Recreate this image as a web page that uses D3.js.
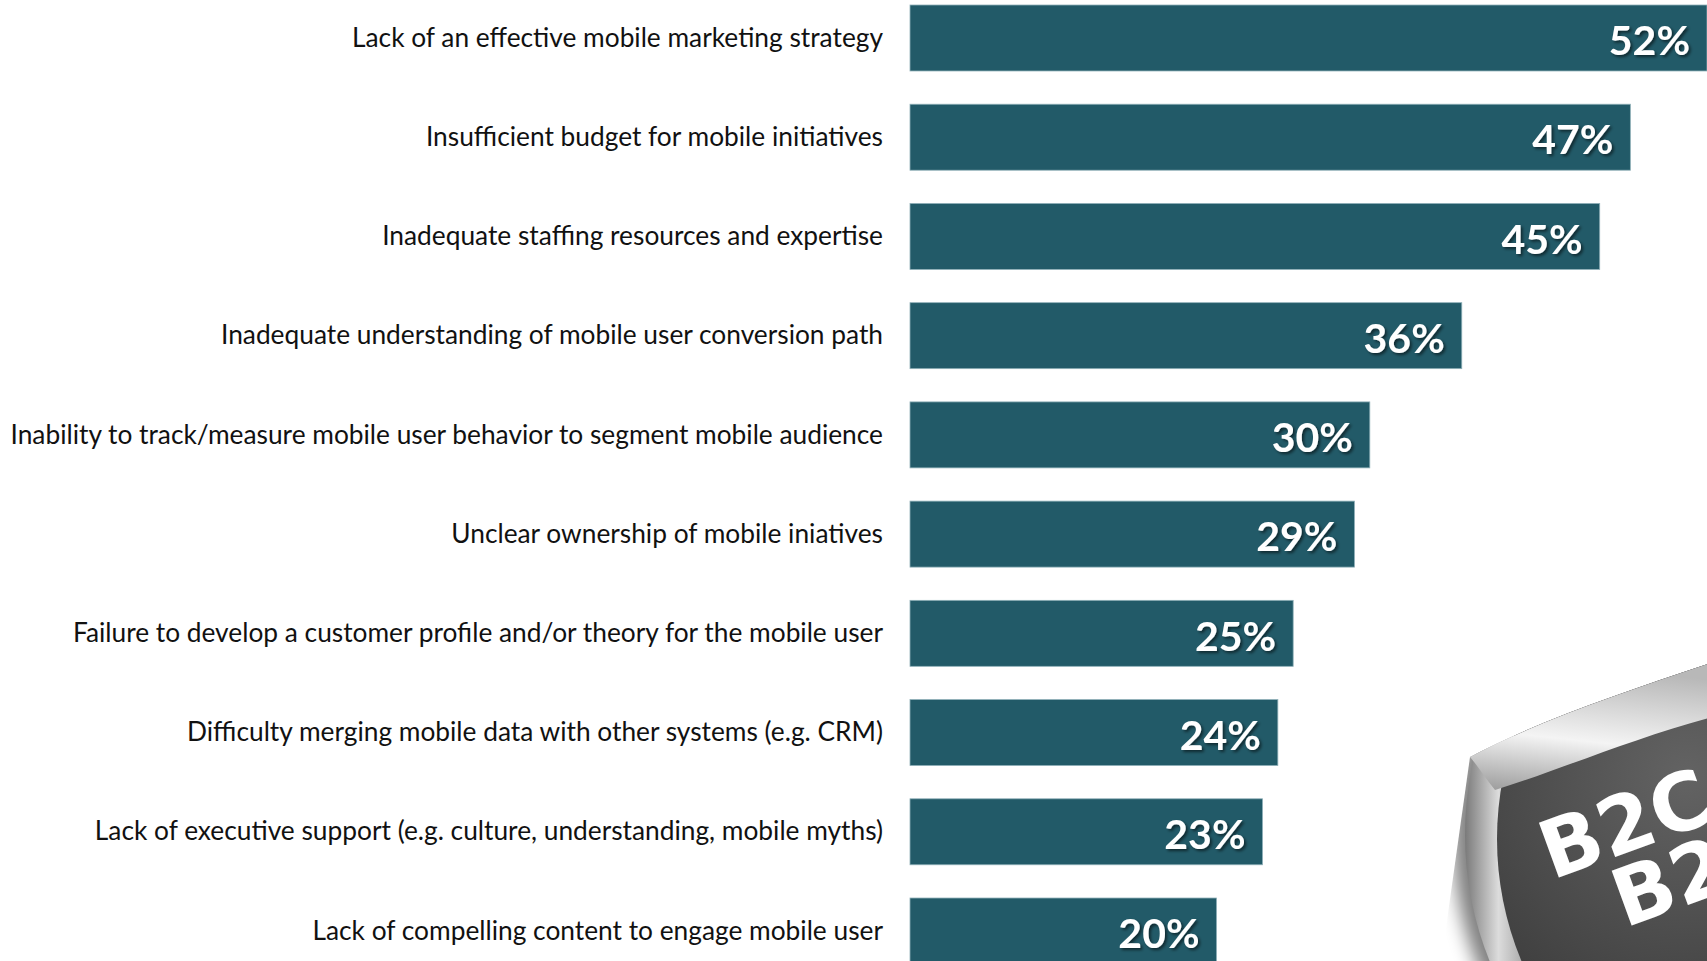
<!DOCTYPE html>
<html>
<head>
<meta charset="utf-8">
<script src="https://cdn.jsdelivr.net/npm/d3@7"></script>
<style>
  html, body { margin: 0; padding: 0; background: #fff; overflow: hidden; }
  svg { display: block; }
</style>
</head>
<body>
<div id="chart"></div>
<script>
// categories and values, top to bottom
var categories = [
  "Lack of an effective mobile marketing strategy",
  "Insufficient budget for mobile initiatives",
  "Inadequate staffing resources and expertise",
  "Inadequate understanding of mobile user conversion path",
  "Inability to track/measure mobile user behavior to segment mobile audience",
  "Unclear ownership of mobile iniatives",
  "Failure to develop a customer profile and/or theory for the mobile user",
  "Difficulty merging mobile data with other systems (e.g. CRM)",
  "Lack of executive support (e.g. culture, understanding, mobile myths)",
  "Lack of compelling content to engage mobile user"
];
var values = [52, 47, 45, 36, 30, 29, 25, 24, 23, 20];
var stickerLines = ["B2C", "B2B"];

var width = 1707, height = 961;
var barLeft = 910;

var svg = d3.select("#chart")
  .append("svg")
  .attr("width", width)
  .attr("height", height);

var defs = svg.append("defs");

// soft shadow behind the value labels
var shadow = defs.append("filter").attr("id", "txtShadow")
  .attr("x", "-20%").attr("y", "-20%").attr("width", "140%").attr("height", "140%");
shadow.append("feDropShadow")
  .attr("dx", 2).attr("dy", 2).attr("stdDeviation", 1.5)
  .attr("flood-color", "#000").attr("flood-opacity", 0.55);

// scales
var x = d3.scaleLinear()
  .domain([0, 52])
  .range([barLeft, width]);

var y = d3.scaleBand()
  .domain(categories)
  .range([5, 964])
  .paddingInner(0.335)
  .paddingOuter(0)
  .align(0);

// bars
svg.append("g")
  .selectAll("rect")
  .data(values)
  .enter()
  .append("rect")
  .attr("x", x(0))
  .attr("y", function (d, i) { return y(categories[i]); })
  .attr("width", function (d) { return x(d) - x(0); })
  .attr("height", y.bandwidth())
  .style("fill", "#225a68")
  .style("stroke", "#8fb0b8")
  .style("stroke-width", 0.8);

// category labels
svg.append("g")
  .selectAll("text")
  .data(categories)
  .enter()
  .append("text")
  .attr("x", 883)
  .attr("y", function (d) { return y(d) + y.bandwidth() / 2; })
  .attr("dy", "0.33em")
  .attr("text-anchor", "end")
  .style("font-family", "Lato, 'Open Sans', sans-serif")
  .style("font-size", "26.3px")
  .style("fill", "#111")
  .text(function (d) { return d; });

// value labels
svg.append("g")
  .selectAll("text")
  .data(values)
  .enter()
  .append("text")
  .attr("x", function (d) { return x(d) - 17; })
  .attr("y", function (d, i) { return y(categories[i]) + y.bandwidth() / 2; })
  .attr("dy", "0.42em")
  .attr("text-anchor", "end")
  .attr("filter", "url(#txtShadow)")
  .style("font-family", "Lato, 'Open Sans', sans-serif")
  .style("font-weight", "bold")
  .style("font-size", "41px")
  .style("fill", "#fff")
  .text(function (d) { return d + "%"; });

// ---------------------------//
//    B2C / B2B STICKER       //
// ---------------------------//
var cx = 1800, cy = 835, r = 335;

var blur = defs.append("filter").attr("id", "stkBlur")
  .attr("x", "-30%").attr("y", "-30%").attr("width", "160%").attr("height", "160%");
blur.append("feGaussianBlur").attr("stdDeviation", 9);

var face = defs.append("radialGradient").attr("id", "stkFace")
  .attr("cx", "30%").attr("cy", "40%").attr("r", "75%");
face.append("stop").attr("offset", "0%").attr("stop-color", "#636363");
face.append("stop").attr("offset", "50%").attr("stop-color", "#424242");
face.append("stop").attr("offset", "100%").attr("stop-color", "#1c1c1c");

var rim = defs.append("linearGradient").attr("id", "stkRim")
  .attr("x1", "0").attr("y1", "0").attr("x2", "1").attr("y2", "0");
rim.append("stop").attr("offset", "0%").attr("stop-color", "#7a7a7a");
rim.append("stop").attr("offset", "5%").attr("stop-color", "#dcdcdc");
rim.append("stop").attr("offset", "10%").attr("stop-color", "#9a9a9a");
rim.append("stop").attr("offset", "100%").attr("stop-color", "#555");

var peel = defs.append("linearGradient").attr("id", "stkPeel")
  .attr("x1", "0").attr("y1", "1").attr("x2", "0.2").attr("y2", "0");
peel.append("stop").attr("offset", "0%").attr("stop-color", "#9a9a9a");
peel.append("stop").attr("offset", "45%").attr("stop-color", "#f4f4f4");
peel.append("stop").attr("offset", "100%").attr("stop-color", "#b8b8b8");

// cut line of the fold (sticker keeps what is below it)
var foldEdge = "M1470,757 C1540,720 1630,690 1720,660";
var clipBody = defs.append("clipPath").attr("id", "stkClip");
clipBody.append("path")
  .attr("d", foldEdge + " L1720,970 L1440,970 Z");

var sticker = svg.append("g");

// drop shadow
sticker.append("circle")
  .attr("cx", cx - 8).attr("cy", cy + 4).attr("r", r + 4)
  .attr("clip-path", "url(#stkClip)")
  .attr("filter", "url(#stkBlur)")
  .style("fill", "#000").style("opacity", 0.5);

// silver rim
sticker.append("circle")
  .attr("cx", cx).attr("cy", cy).attr("r", r)
  .attr("clip-path", "url(#stkClip)")
  .style("fill", "url(#stkRim)");

// dark face
sticker.append("circle")
  .attr("cx", cx + 14).attr("cy", cy + 4).attr("r", r - 18)
  .attr("clip-path", "url(#stkClip)")
  .style("fill", "url(#stkFace)");

// curled back part
sticker.append("path")
  .attr("d", foldEdge + " L1720,715 C1640,735 1560,770 1495,790 C1485,778 1478,766 1470,757 Z")
  .style("fill", "url(#stkPeel)");

// letters (cut by the page edge, as in the source)
sticker.append("g")
  .attr("transform", "translate(1552,880) rotate(-20)")
  .selectAll("text")
  .data(stickerLines)
  .enter()
  .append("text")
  .attr("x", function (d, i) { return i * 52; })
  .attr("y", function (d, i) { return i * 70; })
  .style("font-family", "'DejaVu Sans', sans-serif")
  .style("font-weight", "bold")
  .style("font-size", "80px")
  .style("fill", "#fff")
  .text(function (d) { return d; });
</script>
</body>
</html>
